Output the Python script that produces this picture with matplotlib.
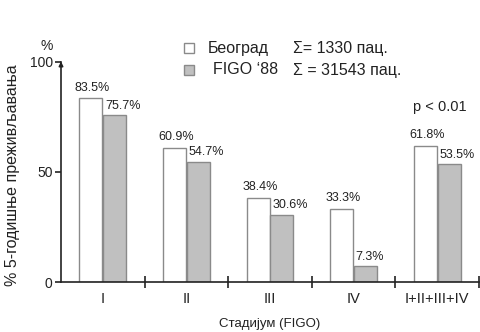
import matplotlib
matplotlib.use("Agg")
import matplotlib.pyplot as plt
from matplotlib.patches import Rectangle
import numpy as np

plt.rcParams['font.family'] = ['Liberation Sans', 'DejaVu Sans']

stages = ["I", "II", "III", "IV", "I+II+III+IV"]
beograd = [83.5, 60.9, 38.4, 33.3, 61.8]
figo88 = [75.7, 54.7, 30.6, 7.3, 53.5]
beograd_label = "Београд"
figo_label = "FIGO \u201888"
beograd_sum = "\u03a3= 1330 пац."
figo_sum = "\u03a3 = 31543 пац."

W, H = 481, 332
fig = plt.figure(figsize=(W / 100, H / 100), dpi=100)
fig.patch.set_facecolor("white")
ink = "#222222"

x0, x1, y0, y1 = 61, 479, 282, 62
ax = fig.add_axes([x0 / W, (H - y0) / H, (x1 - x0) / W, (y0 - y1) / H])
ax.set_xlim(-0.5, 4.5)
ax.set_ylim(0, 100)

x = np.arange(len(stages))
bw = 0.275
edge = "#8a8a8a"
grey = "#c0c0c0"
ax.bar(x - bw / 2 - 0.005, beograd, bw, color="white", edgecolor=edge, linewidth=1.0, zorder=2)
ax.bar(x + bw / 2 + 0.005, figo88, bw, color=grey, edgecolor=edge, linewidth=1.0, zorder=2)

for xi, b, f in zip(x, beograd, figo88):
    ax.annotate(f"{b}%", (xi - bw, b), xytext=(-3.5, 5.5), textcoords="offset points",
                ha="left", va="baseline", fontsize=9, color=ink)
    ax.annotate(f"{f}%", (xi, f), xytext=(1.5, 4.5), textcoords="offset points",
                ha="left", va="baseline", fontsize=9, color=ink)

for s in ["top", "right"]:
    ax.spines[s].set_visible(False)
for s in ["left", "bottom"]:
    ax.spines[s].set_linewidth(1.2)
    ax.spines[s].set_color(ink)

ax.set_yticks([0, 50, 100])
ax.tick_params(axis="y", direction="out", length=4, width=1.2, labelsize=10, pad=2, colors=ink)
ax.set_xticks(x)
ax.set_xticklabels(stages)
ax.tick_params(axis="x", length=0, labelsize=10.5, pad=7, colors=ink)
ax.set_xticks(np.arange(0.5, 5, 1.0), minor=True)
ax.tick_params(axis="x", which="minor", direction="inout", length=8, width=1.2, color=ink)

# small arrow head on top of the y axis
ax.annotate("", xy=(-0.5, 101.5), xytext=(-0.5, 97), xycoords="data",
            arrowprops=dict(arrowstyle="-|>", color=ink, lw=1.2, mutation_scale=6),
            annotation_clip=False)

fig.text(47 / W, 1 - 46 / H, "%", ha="center", va="center", fontsize=10, color=ink)
fig.text(13 / W, 1 - 175 / H, "% 5-годишње преживљавања", rotation=90,
         ha="center", va="center", fontsize=11.5, color=ink)
ax.set_xlabel("Стадијум (FIGO)", fontsize=9.5, color=ink, labelpad=9)

# legend drawn with figure-level patches and text
for (yc, fc, lab, sm, tx) in [(48, "white", beograd_label, beograd_sum, 208),
                              (70, grey, figo_label, figo_sum, 213)]:
    fig.patches.append(Rectangle((184 / W, 1 - (yc + 5) / H), 10 / W, 10 / H,
                                 transform=fig.transFigure, facecolor=fc,
                                 edgecolor=edge, linewidth=1.0))
    fig.text(tx / W, 1 - yc / H, lab, ha="left", va="center", fontsize=11.5, color=ink)
    fig.text(293 / W, 1 - yc / H, sm, ha="left", va="center", fontsize=11.5, color=ink)

fig.text(413 / W, 1 - 107 / H, "p < 0.01", ha="left", va="center", fontsize=10.5, color=ink)

fig.savefig("out.png", dpi=100, facecolor="white")
